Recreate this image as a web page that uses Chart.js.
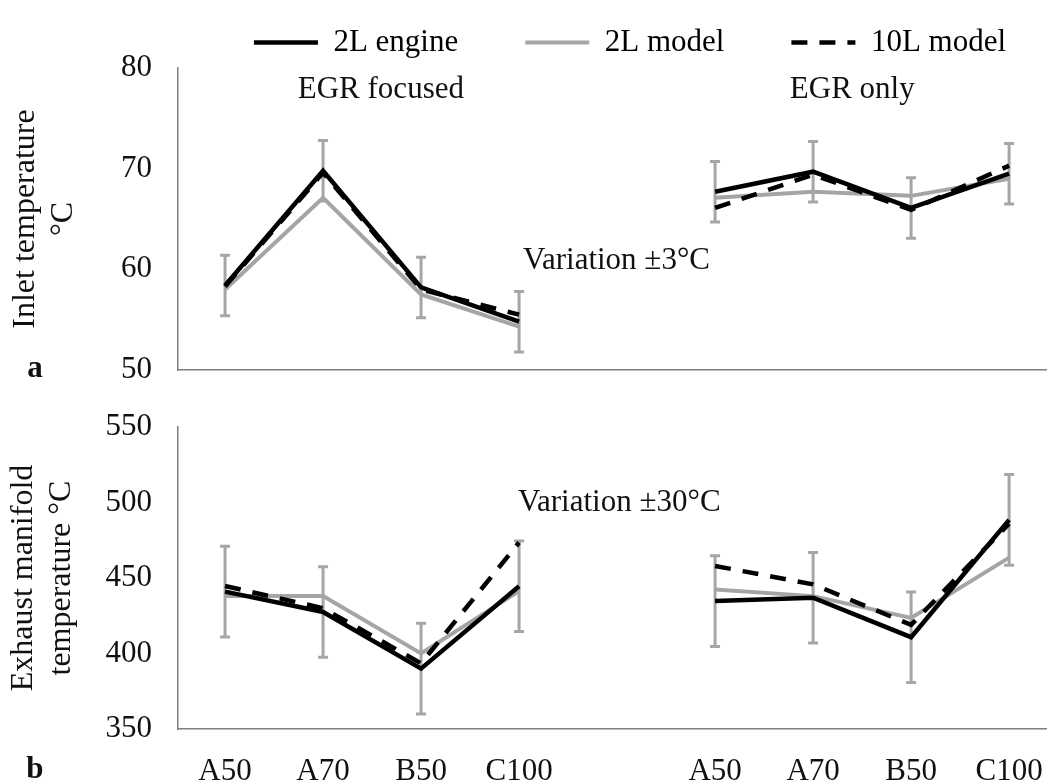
<!DOCTYPE html>
<html>
<head>
<meta charset="utf-8">
<script src="https://cdn.jsdelivr.net/npm/chart.js@4.4.0/dist/chart.umd.min.js"></script>
<style>
  html, body { margin: 0; padding: 0; background: #fff; overflow: hidden; width: 1047px; height: 780px; }
  #topWrap { position: absolute; left: 0; top: -48px; width: 1260px; height: 448px; }
  #bottomWrap { position: absolute; left: 0; top: 400px; width: 1260px; height: 380px; }
</style>
</head>
<body>
<div id="topWrap"><canvas id="inletChart"></canvas></div>
<div id="bottomWrap"><canvas id="exhaustChart"></canvas></div>
<script>
const conditions = ['A50', 'A70', 'B50', 'C100'];
const strategies = ['EGR focused', 'EGR only'];
const seriesNames = ['2L engine', '2L model', '10L model'];

// inlet temperature, °C (EGR focused A50..C100, then EGR only A50..C100)
const inletEngine2L = [58.4, 69.8, 58.2, 54.8, 67.7, 69.7, 66.1, 69.5];
const inletModel2L  = [58.0, 67.1, 57.5, 54.3, 67.1, 67.7, 67.3, 69.0];
const inletModel10L = [58.3, 69.6, 58.0, 55.5, 66.1, 69.4, 65.9, 70.3];
const inletVariation = 3;
const inletTicks = [50, 60, 70, 80];

// exhaust manifold temperature, °C
const exhaustEngine2L = [441, 427.5, 390, 444.5, 434.7, 436.9, 410.8, 488.5];
const exhaustModel2L  = [438, 438, 400, 441.3, 442.4, 438, 423.6, 463.5];
const exhaustModel10L = [444.7, 430, 393.5, 473.5, 458, 445.8, 419, 486];
const exhaustVariation = 30;
const exhaustTicks = [350, 400, 450, 500, 550];

const FONT = 'Liberation Serif';
Chart.defaults.font.family = FONT;
Chart.defaults.color = '#111';

const slot = conditions.length + 1;   // one empty slot between the two groups

function toPoints(values) {
    const pts = [];
    values.forEach((v, i) => {
        const g = Math.floor(i / conditions.length);
        const j = i % conditions.length;
        if (g > 0 && j === 0) pts.push({ x: g * slot - 1, y: null });
        pts.push({ x: g * slot + j, y: v });
    });
    return pts;
}

const xTickValues = [];
strategies.forEach((s, g) => conditions.forEach((c, j) => xTickValues.push(g * slot + j)));

// gray I-beams around the engine series
const errorBarPlugin = {
    id: 'errorBars',
    beforeDatasetsDraw(chart, args, opts) {
        const ds = chart.data.datasets[opts.datasetIndex];
        const xs = chart.scales.x, ys = chart.scales.y;
        const ctx = chart.ctx;
        ctx.save();
        ctx.strokeStyle = opts.color;
        ctx.lineWidth = opts.width;
        ds.data.forEach(p => {
            if (p.y == null) return;
            const x = xs.getPixelForValue(p.x);
            const y1 = ys.getPixelForValue(p.y - opts.amount);
            const y2 = ys.getPixelForValue(p.y + opts.amount);
            ctx.beginPath();
            ctx.moveTo(x, y1); ctx.lineTo(x, y2);
            ctx.moveTo(x - opts.cap, y1); ctx.lineTo(x + opts.cap, y1);
            ctx.moveTo(x - opts.cap, y2); ctx.lineTo(x + opts.cap, y2);
            ctx.stroke();
        });
        ctx.restore();
    }
};

// free text placed in data coordinates
const notesPlugin = {
    id: 'notes',
    afterDraw(chart, args, opts) {
        const ctx = chart.ctx;
        ctx.save();
        ctx.textBaseline = 'middle';
        ctx.fillStyle = '#111';
        opts.items.forEach(n => {
            ctx.font = (n.bold ? 'bold ' : '') + opts.size + 'px ' + FONT;
            ctx.textAlign = n.align || 'center';
            ctx.fillText(n.text, chart.scales.x.getPixelForValue(n.x), chart.scales.y.getPixelForValue(n.y));
        });
        ctx.restore();
    }
};

function legendLabels(chart) {
    const items = Chart.defaults.plugins.legend.labels.generateLabels(chart);
    return items.map(it => {
        const ds = chart.data.datasets[it.datasetIndex];
        it.lineDash = ds.borderDash || [];
        it.lineWidth = ds.borderWidth;
        return it;
    });
}

function makeChart(id, cfg) {
    return new Chart(document.getElementById(id), {
        type: 'line',
        data: {
            datasets: [
                { label: seriesNames[0], data: toPoints(cfg.engine), borderColor: '#000', backgroundColor: '#000', borderWidth: 4.5, order: 1 },
                { label: seriesNames[1], data: toPoints(cfg.model2), borderColor: '#a5a5a5', backgroundColor: '#a5a5a5', borderWidth: 4, order: 2 },
                { label: seriesNames[2], data: toPoints(cfg.model10), borderColor: '#000', backgroundColor: '#000', borderWidth: 4.5, borderDash: [16, 12], order: 0 }
            ]
        },
        plugins: [errorBarPlugin, notesPlugin],
        options: {
            animation: false,
            responsive: true,
            maintainAspectRatio: false,
            spanGaps: false,
            layout: { padding: 0 },
            elements: { point: { radius: 0 }, line: { tension: 0 } },
            plugins: {
                tooltip: { enabled: false },
                legend: {
                    display: cfg.legend,
                    position: 'top',
                    labels: {
                        usePointStyle: true,
                        pointStyle: 'line',
                        pointStyleWidth: 64,
                        padding: 67,
                        color: '#000',
                        font: { size: 31 },
                        generateLabels: legendLabels,
                        sort: (a, b) => a.datasetIndex - b.datasetIndex
                    }
                },
                errorBars: { datasetIndex: 0, amount: cfg.variation, color: '#a6a6a6', width: 3, cap: 5 },
                notes: { size: 31, items: cfg.notes }
            },
            scales: {
                x: {
                    type: 'linear',
                    min: -0.48,
                    max: 10.56,
                    grid: { display: false, drawTicks: false },
                    border: { display: true, color: '#7f7f7f', width: 1.5 },
                    afterBuildTicks: s => { s.ticks = xTickValues.map(v => ({ value: v })); },
                    afterFit: s => { s.height = cfg.xHeight; },
                    ticks: {
                        display: cfg.xLabels,
                        autoSkip: false,
                        maxRotation: 0,
                        padding: 24,
                        font: { size: 31 },
                        callback: v => conditions[v % slot]
                    }
                },
                y: {
                    min: cfg.ticks[0],
                    max: cfg.ticks[cfg.ticks.length - 1],
                    grid: { display: false, drawTicks: false },
                    border: { display: true, color: '#7f7f7f', width: 1.5 },
                    afterBuildTicks: s => { s.ticks = cfg.ticks.map(v => ({ value: v })); },
                    afterFit: s => { s.width = 178; s.paddingTop = cfg.topPad; s.paddingBottom = 0; },
                    ticks: { padding: 26, font: { size: 31 } },
                    title: {
                        display: true,
                        text: cfg.title,
                        font: { size: 32 },
                        padding: { top: cfg.titlePad, bottom: 0 }
                    }
                }
            }
        }
    });
}

makeChart('inletChart', {
    engine: inletEngine2L, model2: inletModel2L, model10: inletModel10L,
    variation: inletVariation, ticks: inletTicks,
    legend: true, xLabels: false, xHeight: 30, topPad: 116, titlePad: 6,
    title: ['Inlet temperature', '°C'],
    notes: [
        { text: strategies[0], x: 1.59, y: 77.8 },
        { text: strategies[1], x: 6.4, y: 77.8 },
        { text: 'Variation ±' + inletVariation + '°C', x: 3.04, y: 60.8, align: 'left' },
        { text: 'a', x: -1.94, y: 50.1, bold: true }
    ]
});

makeChart('exhaustChart', {
    engine: exhaustEngine2L, model2: exhaustModel2L, model10: exhaustModel10L,
    variation: exhaustVariation, ticks: exhaustTicks,
    legend: false, xLabels: true, xHeight: 51, topPad: 27, titlePad: 4,
    title: ['Exhaust manifold', 'temperature °C'],
    notes: [
        { text: 'Variation ±' + exhaustVariation + '°C', x: 2.99, y: 500, align: 'left' },
        { text: 'b', x: -1.94, y: 322.7, bold: true }
    ]
});
</script>
</body>
</html>
